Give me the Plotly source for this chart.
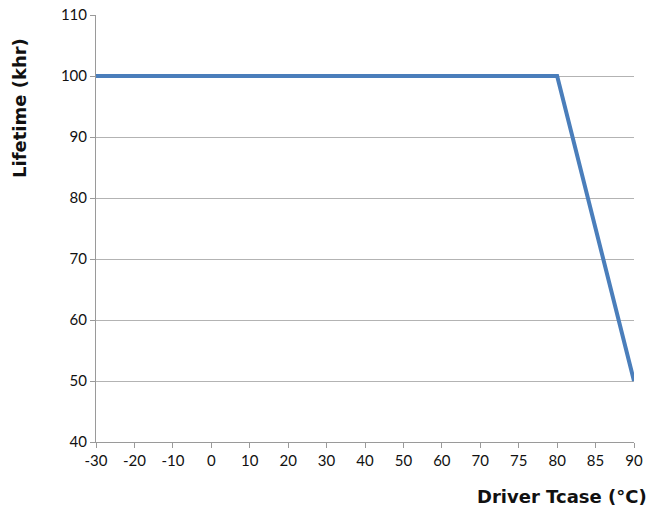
import plotly.graph_objects as go

temps = ["-30", "-20", "-10", "0", "10", "20", "30", "40", "50", "60", "70", "75", "80", "85", "90"]
lifetime = [100, 100, 100, 100, 100, 100, 100, 100, 100, 100, 100, 100, 100, 75, 50]
y_ticks = [40, 50, 60, 70, 80, 90, 100, 110]

L, R, T, B = 96, 18, 15, 70
W, H = 652, 512
plot_w = W - L - R
plot_h = H - T - B

fig = go.Figure()
fig.add_trace(go.Scatter(
    x=temps, y=lifetime, mode="lines",
    line=dict(color="#4A7EBB", width=4),
    cliponaxis=False, showlegend=False,
))

fig.update_layout(
    width=W, height=H,
    margin=dict(l=L, r=R, t=T, b=B, autoexpand=False),
    plot_bgcolor="white", paper_bgcolor="white",
    font=dict(family="Lato, Open Sans, sans-serif", size=15, color="#111"),
    xaxis=dict(
        type="category", range=[0, 14],
        showgrid=False, showline=True, linecolor="#9a9a9a", linewidth=1,
        ticks="outside", ticklen=5, tickcolor="#9a9a9a",
        tickfont=dict(size=15), zeroline=False, automargin=False,
    ),
    yaxis=dict(
        range=[40, 110], tickvals=y_ticks,
        showgrid=True, gridcolor="#b3b3b3", gridwidth=1,
        showline=True, linecolor="#9a9a9a", linewidth=1,
        ticks="outside", ticklen=5, tickcolor="#9a9a9a",
        tickfont=dict(size=15), zeroline=False, automargin=False,
    ),
    annotations=[
        dict(text="<b>Lifetime (khr)</b>",
             x=(19 - L) / plot_w, y=(H - B - 108) / plot_h,
             xref="paper", yref="paper",
             showarrow=False, textangle=-90,
             font=dict(family="DejaVu Sans", size=18, color="#111"),
             xanchor="center", yanchor="middle"),
        dict(text="<b>Driver Tcase (°C)</b>",
             x=(649 - L) / plot_w, y=(H - B - 497) / plot_h,
             xref="paper", yref="paper",
             showarrow=False,
             font=dict(family="DejaVu Sans", size=18, color="#111"),
             xanchor="right", yanchor="middle"),
    ],
)

fig.write_html("out.html", config={"displayModeBar": False},
               post_script="document.body.style.margin='0';")
